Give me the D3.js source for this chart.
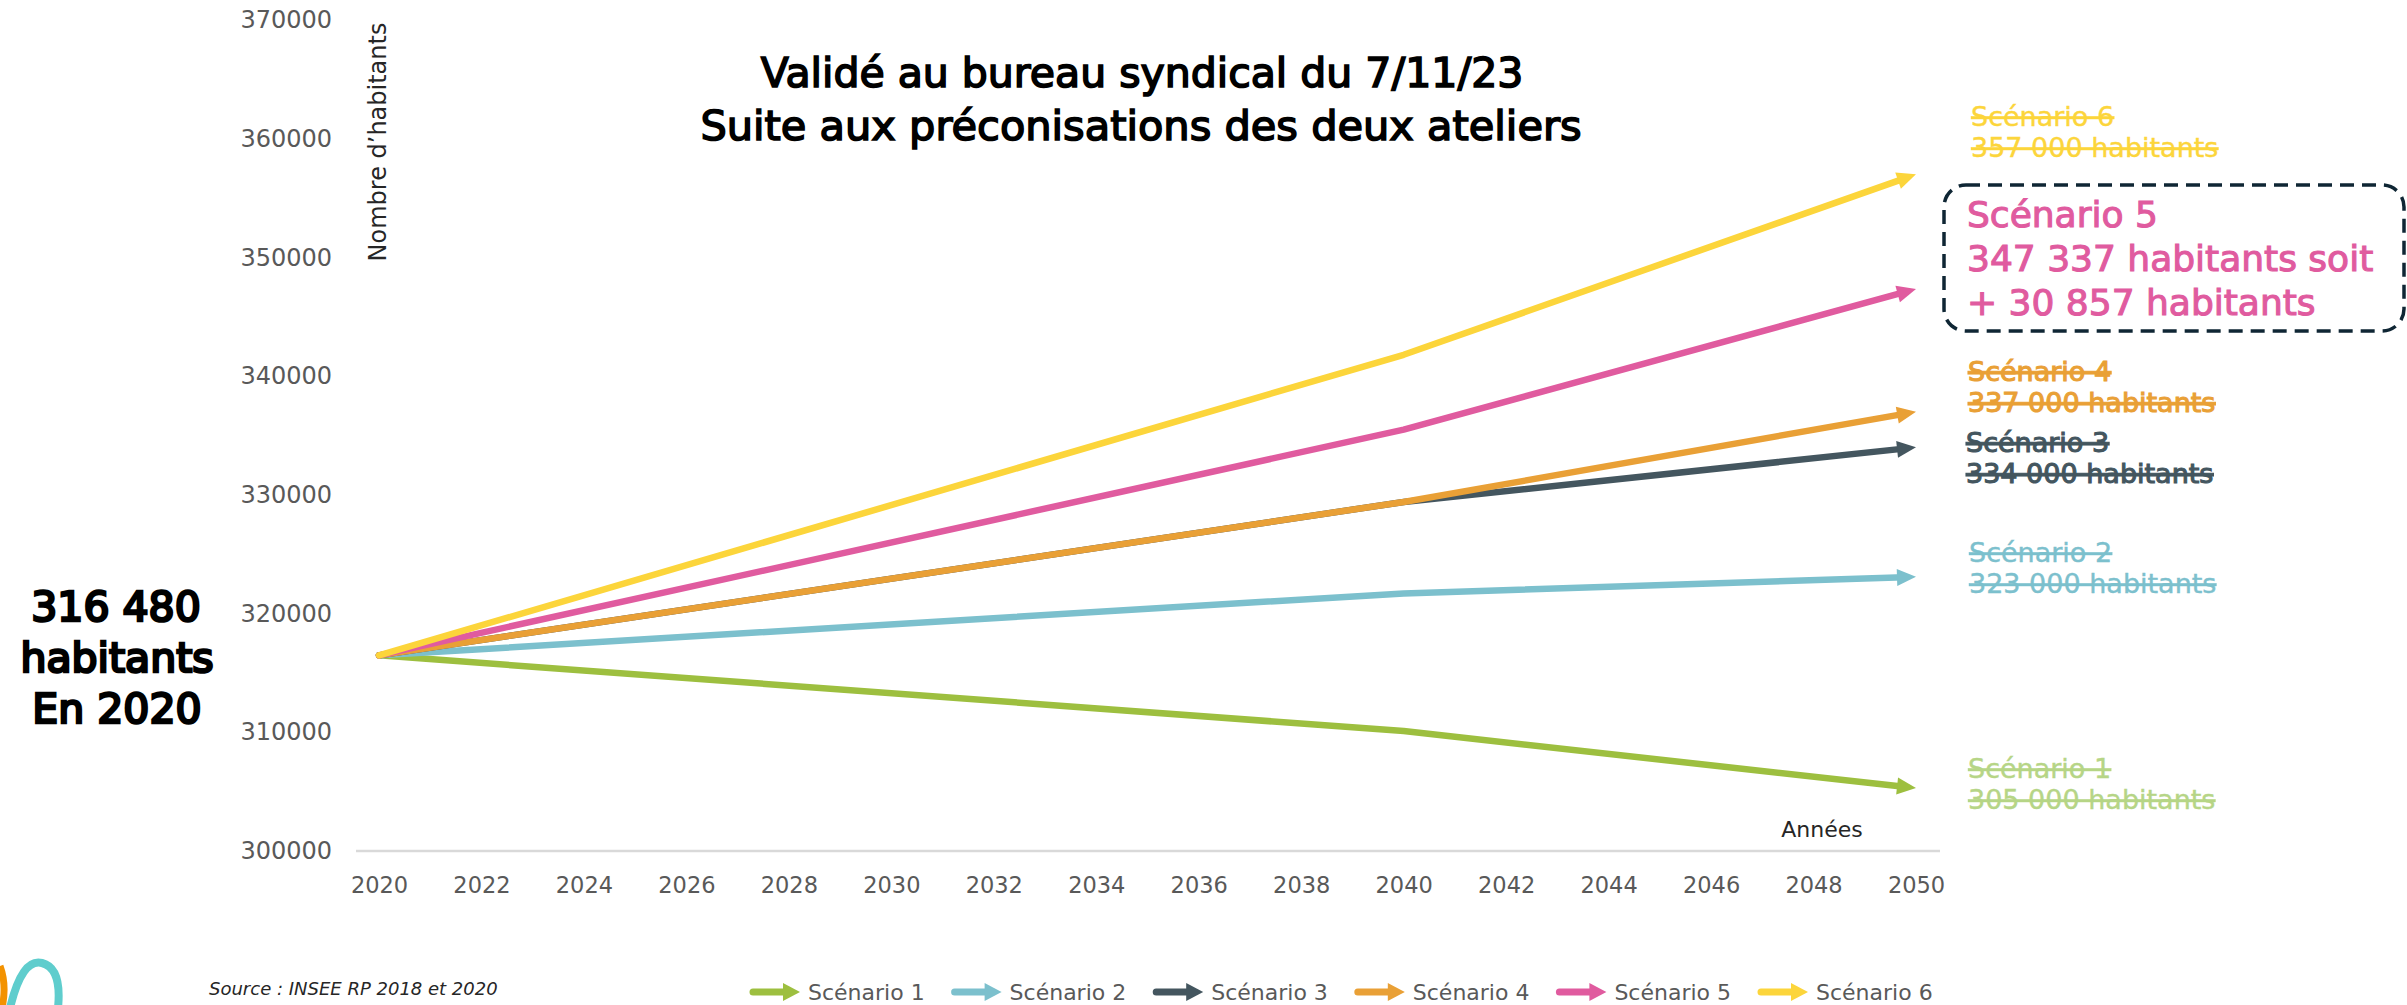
<!DOCTYPE html>
<html lang="fr">
<head>
<meta charset="utf-8">
<script src="https://cdn.jsdelivr.net/npm/d3@7"></script>
<style>
  body { margin: 0; background: #fff; }
  svg { display: block; font-family: "DejaVu Sans", sans-serif; }
</style>
</head>
<body>
<div id="chart"></div>
<script>
// Data
var years = [2020, 2040, 2050];
var scenario1 = [316480, 310100, 305300];
var scenario2 = [316480, 321700, 323100];
var scenario3 = [316480, 329400, 334000];
var scenario4 = [316480, 329400, 337000];
var scenario5 = [316480, 335500, 347337];
var scenario6 = [316480, 341800, 357000];
var seriesNames = ["Scénario 1", "Scénario 2", "Scénario 3", "Scénario 4", "Scénario 5", "Scénario 6"];
var seriesColors = ["#9dbf3f", "#7cc0cd", "#44565f", "#e9a036", "#e05b9f", "#fcd53b"];
var labelColors = ["#b6d586", "#7cc0cd", "#44565f", "#e9a036", "#e05b9f", "#fcd53b"];
var endLabels = [
  ["Scénario 1", "305 000 habitants"],
  ["Scénario 2", "323 000 habitants"],
  ["Scénario 3", "334 000 habitants"],
  ["Scénario 4", "337 000 habitants"],
  ["Scénario 5", "347 337 habitants soit", "+ 30 857 habitants"],
  ["Scénario 6", "357 000 habitants"]
];
var xTicks = d3.range(2020, 2051, 2);
var yTicks = d3.range(300000, 370001, 10000);

var allSeries = [scenario1, scenario2, scenario3, scenario4, scenario5, scenario6];

var W = 2407, H = 1005;
var svg = d3.select("#chart").append("svg")
    .attr("width", W)
    .attr("height", H);

svg.append("rect").attr("width", W).attr("height", H).attr("fill", "#fff");

// scales
var x = d3.scaleLinear().domain([2020, 2050]).range([379, 1916]);
var y = d3.scaleLinear().domain([300000, 370000]).range([851, 20]);

// base line of the x axis (a bit wider than the data range)
svg.append("line")
    .attr("x1", x(2020) - 23).attr("x2", x(2050) + 24)
    .attr("y1", y(300000)).attr("y2", y(300000))
    .attr("stroke", "#d9d9d9").attr("stroke-width", 2.5);

// y axis
var yAxis = svg.append("g")
    .attr("transform", "translate(" + (x(2020) - 23) + ",0)")
    .call(d3.axisLeft(y).tickValues(yTicks).tickSize(0).tickPadding(24).tickFormat(d3.format("d")));
yAxis.select(".domain").remove();
yAxis.selectAll("text")
    .attr("font-family", "DejaVu Sans")
    .attr("font-size", 24)
    .attr("fill", "#595959");

// x axis
var xAxis = svg.append("g")
    .attr("transform", "translate(0," + y(300000) + ")")
    .call(d3.axisBottom(x).tickValues(xTicks).tickSize(0).tickPadding(26).tickFormat(d3.format("d")));
xAxis.select(".domain").remove();
xAxis.selectAll("text")
    .attr("font-family", "DejaVu Sans")
    .attr("font-size", 22.5)
    .attr("fill", "#595959");

// axis titles
svg.append("text")
    .attr("transform", "translate(386,142) rotate(-90)")
    .attr("text-anchor", "middle")
    .attr("font-size", 24)
    .attr("fill", "#262626")
    .text("Nombre d’habitants");

svg.append("text")
    .attr("x", 1822).attr("y", 837)
    .attr("text-anchor", "middle")
    .attr("font-size", 22)
    .attr("fill", "#262626")
    .text("Années");

// lines with arrow heads at the end
allSeries.forEach(function(values, i) {
    var pts = years.map(function(yr, j) { return {year: yr, value: values[j]}; });
    var n = pts.length;
    var tx = x(pts[n - 1].year), ty = y(pts[n - 1].value);
    var px = x(pts[n - 2].year), py = y(pts[n - 2].value);
    var len = Math.sqrt((tx - px) * (tx - px) + (ty - py) * (ty - py));
    var ux = (tx - px) / len, uy = (ty - py) / len;
    var headLen = 19, headHalf = 8.5;
    // stop the line inside the arrow head
    var linePts = pts.map(function(p) { return [x(p.year), y(p.value)]; });
    linePts[n - 1] = [tx - ux * 12, ty - uy * 12];

    svg.append("path")
        .attr("d", d3.line()(linePts))
        .attr("fill", "none")
        .attr("stroke", seriesColors[i])
        .attr("stroke-width", 6.5)
        .attr("stroke-linecap", "round")
        .attr("stroke-linejoin", "round");

    var bx = tx - ux * headLen, by = ty - uy * headLen;
    svg.append("path")
        .attr("d", "M" + tx + "," + ty +
            "L" + (bx - uy * headHalf) + "," + (by + ux * headHalf) +
            "L" + (bx + uy * headHalf) + "," + (by - ux * headHalf) + "Z")
        .attr("fill", seriesColors[i]);
});

// title
var title = svg.append("g")
    .attr("font-size", 41)
    .attr("fill", "#000")
    .attr("stroke", "#000")
    .attr("stroke-width", 1.6)
    .attr("text-anchor", "middle");
title.append("text").attr("x", 1142).attr("y", 87).text("Validé au bureau syndical du 7/11/23");
title.append("text").attr("x", 1141).attr("y", 140).attr("font-size", 41.5).text("Suite aux préconisations des deux ateliers");

// left annotation
var left = svg.append("g")
    .attr("font-size", 41)
    .attr("fill", "#000")
    .attr("stroke", "#000")
    .attr("stroke-width", 2.6)
    .attr("text-anchor", "middle");
left.append("text").attr("x", 116).attr("y", 621).text("316 480");
left.append("text").attr("x", 117).attr("y", 672).text("habitants");
left.append("text").attr("x", 117).attr("y", 723).text("En 2020");

// end labels (struck through except scenario 5)
var labelPos = [
  {x: 1968, y: 778, bold: false},
  {x: 1969, y: 562, bold: false},
  {x: 1966, y: 452, bold: true},
  {x: 1968, y: 381, bold: true},
  null,
  {x: 1971, y: 126, bold: false}
];
labelPos.forEach(function(p, i) {
    if (!p) return;
    var g = svg.append("g")
        .attr("font-size", 27)
        .attr("fill", labelColors[i])
        .attr("stroke", labelColors[i])
        .attr("stroke-width", p.bold ? 1.1 : 0.4);
    endLabels[i].forEach(function(t, k) {
        g.append("text")
            .attr("x", p.x).attr("y", p.y + k * 31)
            .attr("text-decoration", "line-through")
            .text(t);
    });
});

// highlighted scenario 5
svg.append("rect")
    .attr("x", 1944).attr("y", 185)
    .attr("width", 460).attr("height", 146)
    .attr("rx", 22).attr("ry", 22)
    .attr("fill", "none")
    .attr("stroke", "#0f2634")
    .attr("stroke-width", 3.5)
    .attr("stroke-dasharray", "14,8");
var s5 = svg.append("g")
    .attr("font-size", 36)
    .attr("fill", labelColors[4])
    .attr("stroke", labelColors[4])
    .attr("stroke-width", 1.1);
endLabels[4].forEach(function(t, k) {
    s5.append("text").attr("x", 1967).attr("y", 227 + k * 44).text(t);
});

// legend
var legend = svg.append("g").attr("transform", "translate(750,992)");
seriesNames.forEach(function(name, i) {
    var g = legend.append("g").attr("transform", "translate(" + (i * 201.6) + ",0)");
    g.append("line")
        .attr("x1", 3).attr("x2", 36).attr("y1", 0).attr("y2", 0)
        .attr("stroke", seriesColors[i])
        .attr("stroke-width", 7)
        .attr("stroke-linecap", "round");
    g.append("path")
        .attr("d", "M50,0L33,-9L33,9Z")
        .attr("fill", seriesColors[i]);
    g.append("text")
        .attr("x", 58).attr("y", 8)
        .attr("font-size", 22)
        .attr("fill", "#595959")
        .text(name);
});

// source
svg.append("text")
    .attr("x", 209).attr("y", 995)
    .attr("font-size", 18)
    .attr("font-style", "italic")
    .attr("fill", "#262626")
    .text("Source : INSEE RP 2018 et 2020");

// logo fragment in the corner
svg.append("path")
    .attr("d", "M10,1008 Q22,958 42,963 Q62,968 58,1008")
    .attr("fill", "none")
    .attr("stroke", "#5fcdcd")
    .attr("stroke-width", 8);
svg.append("path")
    .attr("d", "M0,966 Q7,985 2,1008")
    .attr("fill", "none")
    .attr("stroke", "#f39200")
    .attr("stroke-width", 7);
</script>
</body>
</html>
